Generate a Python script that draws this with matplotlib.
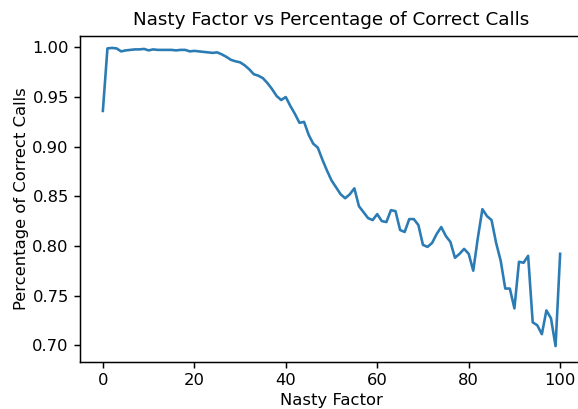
import matplotlib
matplotlib.use("Agg")
import matplotlib.pyplot as plt
import numpy as np

nasty_factor = list(range(0, 101))
correct_pct = [
    0.936, 0.999, 0.9995, 0.999, 0.996, 0.997, 0.9975, 0.998, 0.998, 0.9985,
    0.997, 0.998, 0.9975, 0.9975, 0.9975, 0.9975, 0.997, 0.9975, 0.9975, 0.996,
    0.9965, 0.996, 0.9955, 0.995, 0.9945, 0.995, 0.993, 0.9905, 0.9875, 0.986,
    0.985, 0.982, 0.978, 0.973, 0.9715, 0.969, 0.964, 0.958, 0.951, 0.947,
    0.950, 0.941, 0.933, 0.924, 0.925, 0.912, 0.903, 0.899, 0.887, 0.876,
    0.866, 0.859, 0.852, 0.848, 0.852, 0.858, 0.840, 0.834, 0.828, 0.826,
    0.832, 0.825, 0.824, 0.836, 0.835, 0.816, 0.814, 0.827, 0.827, 0.821,
    0.801, 0.799, 0.803, 0.812, 0.819, 0.810, 0.804, 0.788, 0.792, 0.797,
    0.792, 0.775, 0.808, 0.837, 0.830, 0.826, 0.803, 0.785, 0.757, 0.757,
    0.737, 0.784, 0.783, 0.790, 0.723, 0.720, 0.711, 0.735, 0.727, 0.699,
    0.792,
]

dpi = 133.8
fig = plt.figure(figsize=(578 / dpi, 409 / dpi), dpi=dpi)
ax = fig.add_axes([80 / 578, 47 / 409, (583 - 80) / 578, (362 - 36) / 409])
ax.plot(nasty_factor, correct_pct, color="#2b7bb4", linewidth=1.4)
ax.set_ylim(0.683, 1.0115)
ax.tick_params(labelsize=8.8, length=3.0, pad=3.0)
ax.set_title("Nasty Factor vs Percentage of Correct Calls", fontsize=9.9, pad=6)
ax.set_xlabel("Nasty Factor", fontsize=8.8, labelpad=2.5)
ax.set_ylabel("Percentage of Correct Calls", fontsize=8.8, labelpad=2)
fig.savefig("out.png", dpi=dpi)
